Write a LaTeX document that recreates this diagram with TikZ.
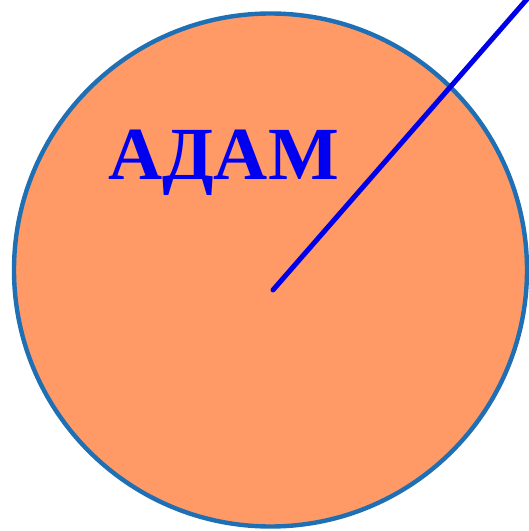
\documentclass[tikz,border=0pt]{standalone}
\usepackage{fontspec}
\setmainfont{Liberation Serif}
\usepackage{xcolor}
\usetikzlibrary{positioning}
\definecolor{disc}{HTML}{FF9966}
\definecolor{rim}{HTML}{1F6FB4}
\definecolor{word}{HTML}{0000F0}
\definecolor{ray}{HTML}{0000E8}

\begin{document}
\begin{tikzpicture}[x=1pt,y=1pt]
    \tikzset{
      set/.style={circle,draw=rim,fill=disc,line width=4.4pt,minimum size=513pt,inner sep=0pt},
      label/.style={text=word,font=\fontsize{75}{80}\selectfont\bfseries,inner sep=0pt,anchor=base west},
      radius line/.style={draw=ray,line width=5pt,line cap=round}
    }
    \useasboundingbox (0,0) rectangle (529,531);
    \node[set] (adam) at (270.5,261) {};
    \node[label] (name) at (108,351) {АДАМ};
    \coordinate (inner) at (273,241);
    \coordinate (outer) at (528,533);
    \draw[radius line] (inner) -- (outer);
  \end{tikzpicture}
\end{document}
